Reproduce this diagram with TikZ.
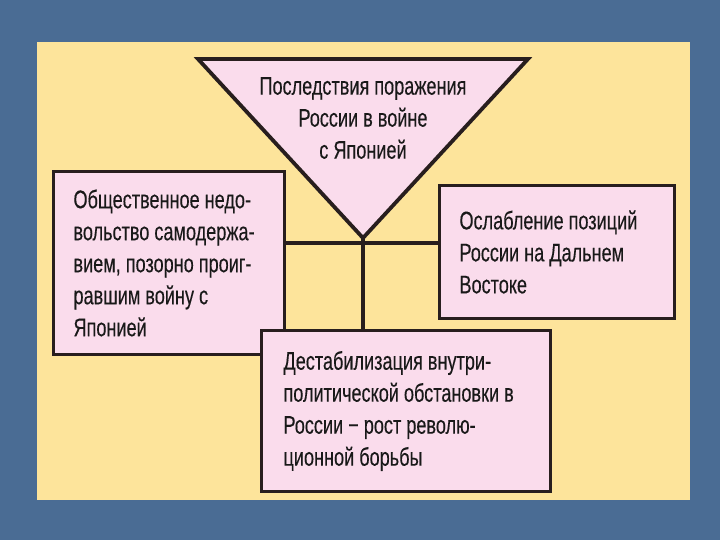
\documentclass[tikz,border=0pt]{standalone}
\usepackage{fontspec}
\setmainfont{Liberation Sans}[FakeStretch=0.71, WordSpace=1.0, FakeBold=0.25]
\definecolor{bgblue}{RGB}{74,108,148}
\definecolor{panel}{RGB}{253,228,155}
\definecolor{pinkfill}{RGB}{250,220,236}
\definecolor{edge}{RGB}{40,30,30}
\begin{document}
\begin{tikzpicture}[x=1pt,y=-1pt,
  box/.style={draw=edge, line width=3pt, fill=pinkfill, align=flush left, inner xsep=20pt, inner ysep=0pt, anchor=north west, font=\fontsize{25.5}{32}\selectfont, text=black!90},
  link/.style={draw=edge, line width=3.2pt}]
\useasboundingbox (0,0) rectangle (720,540);
\fill[bgblue] (0,0) rectangle (720,540);
\fill[panel] (37,42) rectangle (690,500);
% triangle
\coordinate (t1) at (198,59);
\coordinate (t2) at (528,59);
\coordinate (t3) at (363,238);
\filldraw[fill=pinkfill, draw=edge, line width=3.8pt, line join=miter] (t1) -- (t2) -- (t3) -- cycle;
\node[align=center, font=\fontsize{25.5}{32}\selectfont, text=black!90] (ttext) at (363,118) {Последствия поражения\\России в войне\\с Японией};
% boxes
\node[box, text width=191pt, minimum height=183pt] (left) at (52,170) {Общественное недо-\\вольство самодержа-\\вием, позорно проиг-\\равшим войну с\\Японией};
\node[box, text width=195pt, minimum height=133pt] (right) at (438,184) {Ослабление позиций\\России на Дальнем\\Востоке};
\node[box, text width=245pt, minimum height=161pt, inner xsep=22pt] (bottom) at (260,329) {Дестабилизация внутри-\\политической обстановки в\\России − рост револю-\\ционной борьбы};
% connectors
\coordinate (h) at (363,243);
\draw[link] (t3) -- (bottom.north -| t3);
\draw[link] (left.east |- h) -- (right.west |- h);
\end{tikzpicture}
\end{document}
